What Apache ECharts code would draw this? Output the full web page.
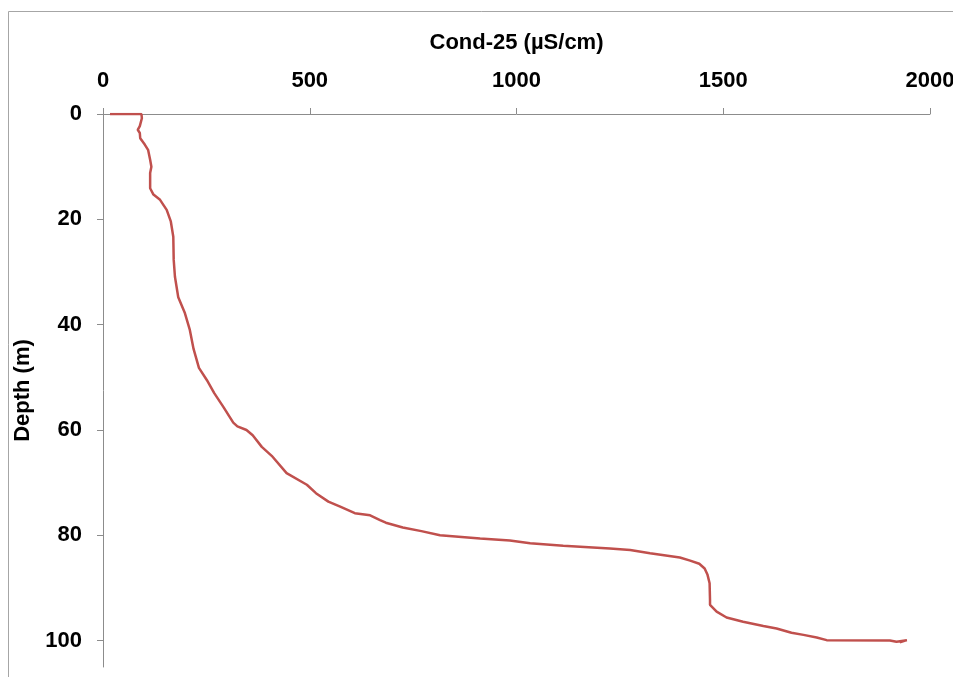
<!DOCTYPE html>
<html>
<head>
<meta charset="utf-8">
<script src="https://cdn.jsdelivr.net/npm/echarts@6/dist/echarts.min.js"></script>
<style>
html,body{margin:0;padding:0;background:#fff;}
#chart{width:953px;height:677px;}
</style>
</head>
<body>
<div id="chart"></div>
<script>
// Depth (m) and Cond-25 (µS/cm) profile
var depth = [0, 0, 0.8, 2.3, 3.0, 3.6, 4.6, 5.8, 6.8, 8.7, 10.0, 11.2, 14.1, 15.3, 16.3, 18.2, 20.4, 23.3, 27.7, 30.9,
  34.8, 37.8, 41.0, 44.6, 48.2, 50.5, 53.0, 55.6, 58.6, 59.3, 60.0, 61.0, 63.2, 64.9, 68.2, 70.4, 72.0, 73.6, 74.6, 75.8,
  76.2, 77.1, 77.6, 78.5, 79.2, 80.0, 80.6, 81.0, 81.5, 82.0, 82.5, 82.8, 83.4, 84.2, 84.8, 85.4, 86.3, 87.5, 89.1, 92.3,
  93.2, 94.5, 95.6, 96.4, 97.2, 97.7, 98.5, 98.9, 99.4, 99.9, 99.95, 100.2, 99.9, 100.3];
var cond = [17, 93, 94, 89, 84, 89, 90, 101, 109, 114, 117, 114, 114, 122, 138, 154, 164, 170, 171, 174,
  182, 198, 210, 219, 232, 251, 269, 291, 315, 325, 347, 362, 384, 408, 444, 493, 515, 545, 575, 609,
  646, 670, 684, 725, 770, 815, 912, 984, 1033, 1113, 1226, 1275, 1323, 1395, 1420, 1442, 1455, 1462, 1467, 1468,
  1468, 1484, 1508, 1548, 1597, 1629, 1665, 1694, 1726, 1750, 1903, 1919, 1944, 1927];
var xTicks = [0, 500, 1000, 1500, 2000];
var yTicks = [0, 20, 40, 60, 80, 100];
var xName = 'Cond-25 (µS/cm)';
var yName = 'Depth (m)';

var points = depth.map(function (d, i) { return [cond[i], d]; });

var chart = echarts.init(document.getElementById('chart'), null, {renderer: 'canvas'});
var font = {fontFamily: '"Liberation Sans", Arial, sans-serif', fontWeight: 'bold', fontSize: 22, color: '#000'};
var axisGray = '#8c8c8c';
chart.setOption({
  backgroundColor: '#fff',
  animation: false,
  graphic: [{
    type: 'rect', z: -1, silent: true,
    shape: {x: 8.5, y: 11.5, width: 1000, height: 720},
    style: {fill: 'none', stroke: '#a6a6a6', lineWidth: 1}
  }],
  grid: {left: 103, top: 114, right: 23, bottom: 10, containLabel: false, outerBoundsMode: 'none'},
  xAxis: {
    type: 'value', position: 'top', min: 0, max: 2000, interval: 500,
    name: xName, nameLocation: 'middle', nameGap: 60,
    nameTextStyle: font,
    axisLine: {show: true, lineStyle: {color: axisGray, width: 1}},
    axisTick: {show: true, inside: false, length: 6, lineStyle: {color: axisGray}, customValues: xTicks},
    axisLabel: Object.assign({margin: 22, customValues: xTicks, formatter: function (v) { return String(v); }}, font),
    splitLine: {show: false}
  },
  yAxis: {
    type: 'value', inverse: true, min: 0, max: 105, interval: 20,
    name: yName, nameLocation: 'middle', nameGap: 66, nameRotate: 90,
    nameTextStyle: font,
    axisLine: {show: true, lineStyle: {color: axisGray, width: 1}},
    axisTick: {show: true, inside: false, length: 6, lineStyle: {color: axisGray}, customValues: yTicks},
    axisLabel: Object.assign({margin: 21, customValues: yTicks, formatter: function (v) { return String(v); }}, font),
    splitLine: {show: false}
  },
  series: [{
    type: 'line',
    data: points,
    showSymbol: false,
    smooth: false,
    lineStyle: {color: '#C0504D', width: 2.5},
    itemStyle: {color: '#C0504D'}
  }]
});
</script>
</body>
</html>
